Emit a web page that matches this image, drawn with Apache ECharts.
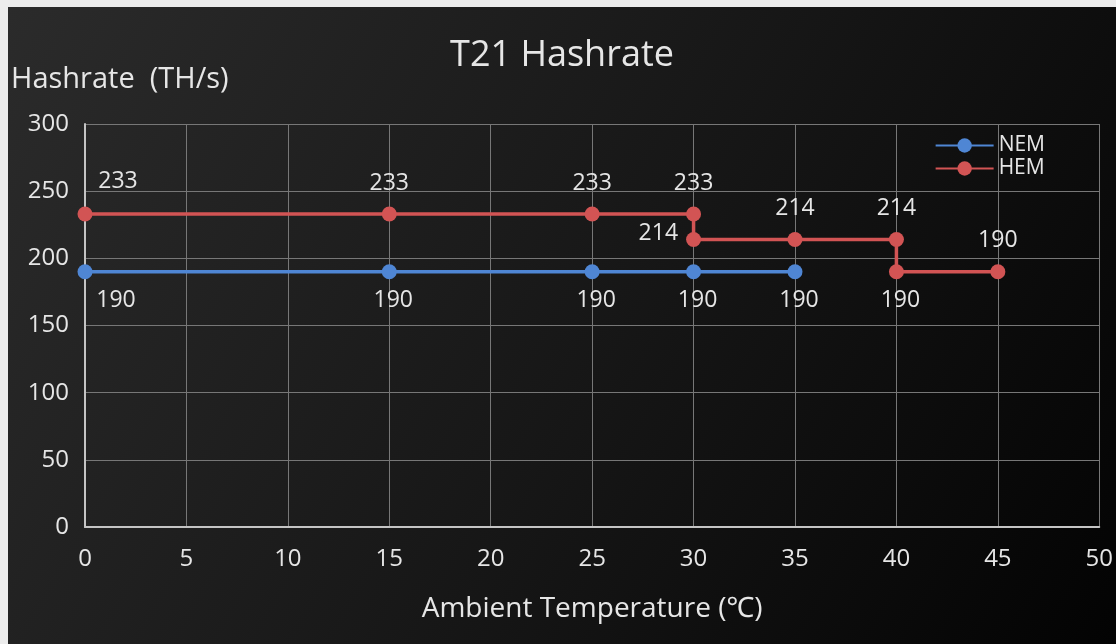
<!DOCTYPE html>
<html lang="en">
<head>
    <meta charset="UTF-8">
    <title>T21 Hashrate</title>
    <script type="text/javascript" src="https://cdn.jsdelivr.net/npm/echarts@6/dist/echarts.min.js"></script>
    <style>
        body { margin: 0; background: #ececec; }
        #main { position: absolute; left: 8px; top: 7px; width: 1108px; height: 637px; }
    </style>
</head>
<body>
<div id="main"></div>
<script>
    // data
    var nemTemp = [0, 15, 25, 30, 35];
    var nemRate = [190, 190, 190, 190, 190];
    var hemTemp = [0, 15, 25, 30, 30, 35, 40, 40, 45];
    var hemRate = [233, 233, 233, 233, 214, 214, 214, 190, 190];
    var xTicks = [0, 5, 10, 15, 20, 25, 30, 35, 40, 45, 50];
    var yTicks = [0, 50, 100, 150, 200, 250, 300];

    // where each label sits
    var nemLabelPos = ['first', 'below', 'below', 'below', 'below'];
    var hemLabelPos = ['first', 'above', 'above', 'above', 'left', 'above', 'above', 'below', 'above'];

    function makeLabel(pos) {
        if (pos === 'first') return null;
        if (pos === 'above') return {position: 'top', distance: 12};
        if (pos === 'below') return {position: 'bottom', distance: 10, offset: [4, 0]};
        if (pos === 'left') return {position: 'left', distance: 8, offset: [0, -6]};
    }

    function buildData(xs, ys, poses, firstOffset) {
        var out = [];
        for (var i = 0; i < xs.length; i++) {
            var item = {value: [xs[i], ys[i]]};
            var lb = makeLabel(poses[i]);
            if (lb === null) {
                lb = {position: firstOffset[0], distance: 10, offset: firstOffset[1]};
            }
            item.label = lb;
            out.push(item);
        }
        return out;
    }

    var myChart = echarts.init(document.getElementById('main'));
    var txt = '#e6e6e6';
    var font = '"Open Sans", "Noto Sans", sans-serif';
    var option = {
        backgroundColor: {
            type: 'linear', x: 0, y: 0, x2: 1, y2: 1,
            colorStops: [{offset: 0, color: '#2b2b2b'}, {offset: 0.55, color: '#161616'}, {offset: 1, color: '#030303'}]
        },
        textStyle: {fontFamily: font},
        title: {
            text: 'T21 Hashrate',
            left: 'center',
            top: 26,
            textStyle: {color: txt, fontSize: 36, fontWeight: 'normal', fontFamily: font}
        },
        legend: {
            orient: 'vertical',
            right: 66,
            top: 123,
            itemGap: 2,
            itemWidth: 58,
            itemHeight: 18,
            textStyle: {color: txt, fontSize: 21},
            data: ['NEM', 'HEM']
        },
        grid: {left: 76, right: 16, top: 117, bottom: 117},
        xAxis: {
            type: 'value',
            min: xTicks[0],
            max: xTicks[xTicks.length - 1],
            interval: xTicks[1] - xTicks[0],
            name: 'Ambient Temperature (℃)',
            nameLocation: 'middle',
            nameGap: 68,
            nameTextStyle: {color: txt, fontSize: 28},
            axisLine: {lineStyle: {color: '#c4c4c4', width: 2}},
            axisTick: {show: false},
            axisLabel: {color: txt, fontSize: 24, fontFamily: font, margin: 20},
            splitLine: {lineStyle: {color: '#777777', width: 1}}
        },
        yAxis: {
            type: 'value',
            min: yTicks[0],
            max: yTicks[yTicks.length - 1],
            interval: yTicks[1] - yTicks[0],
            name: 'Hashrate  (TH/s)',
            nameLocation: 'end',
            nameGap: 30,
            nameTextStyle: {color: txt, fontSize: 29, align: 'left', padding: [0, 0, 0, -74]},
            axisLine: {show: true, lineStyle: {color: '#c4c4c4', width: 2}},
            axisTick: {show: false},
            axisLabel: {color: txt, fontSize: 24, fontFamily: font, margin: 16},
            splitLine: {lineStyle: {color: '#777777', width: 1}}
        },
        series: [
            {
                name: 'NEM',
                type: 'line',
                color: '#4f86d4',
                symbol: 'circle',
                symbolSize: 15,
                lineStyle: {width: 3.5},
                label: {show: true, color: txt, fontSize: 23},
                data: buildData(nemTemp, nemRate, nemLabelPos, ['bottom', [31, 0]]),
                z: 3
            },
            {
                name: 'HEM',
                type: 'line',
                color: '#d25454',
                symbol: 'circle',
                symbolSize: 15,
                lineStyle: {width: 3.5},
                label: {show: true, color: txt, fontSize: 23},
                data: buildData(hemTemp, hemRate, hemLabelPos, ['top', [33, -4]]),
                z: 4
            }
        ]
    };
    myChart.setOption(option);
</script>
</body>
</html>
